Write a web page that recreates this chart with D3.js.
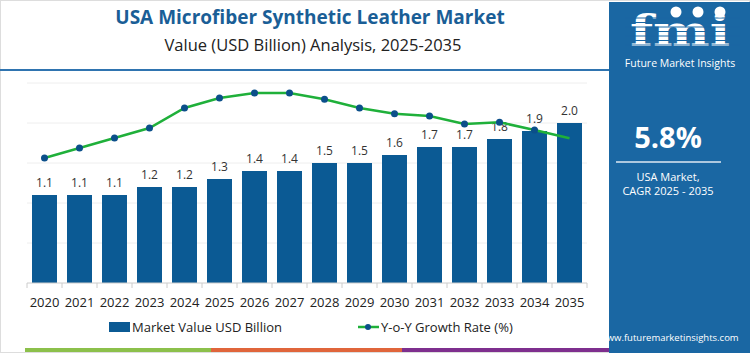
<!DOCTYPE html>
<html>
<head>
<meta charset="utf-8">
<script src="https://cdn.jsdelivr.net/npm/d3@7"></script>
<style>
  html, body { margin: 0; padding: 0; background: #fff; }
  svg { display: block; font-family: "Open Sans", sans-serif; }
</style>
</head>
<body>
<svg id="chart" width="750" height="353"></svg>
<script>
// chart data
var years = ["2020", "2021", "2022", "2023", "2024", "2025", "2026", "2027",
  "2028", "2029", "2030", "2031", "2032", "2033", "2034", "2035"];
var marketValue = [1.1, 1.1, 1.1, 1.2, 1.2, 1.3, 1.4, 1.4, 1.5, 1.5, 1.6, 1.7, 1.7, 1.8, 1.9, 2.0];
var yoyGrowth = [5.0, 5.4, 5.8, 6.2, 7.0, 7.4, 7.6, 7.6, 7.35, 7.0, 6.77, 6.68, 6.36, 6.43, 6.12, 5.79];
var valueTicks = [0, 0.5, 1, 1.5, 2, 2.5];

var svg = d3.select("#chart");
var blue = "#0b5a94";

// frame
svg.append("rect").attr("x", 0.5).attr("y", 0.5).attr("width", 749).attr("height", 352)
  .attr("fill", "none").attr("stroke", "#ddd");

// header
svg.append("text").attr("x", 310).attr("y", 24).attr("text-anchor", "middle")
  .attr("font-size", 19).attr("font-weight", 700).attr("fill", "#1a5e96")
  .text("USA Microfiber Synthetic Leather Market");
svg.append("text").attr("x", 313).attr("y", 51).attr("text-anchor", "middle")
  .attr("font-size", 16.5).attr("fill", "#222")
  .text("Value (USD Billion) Analysis, 2025-2035");
svg.append("line").attr("x1", 0).attr("x2", 609).attr("y1", 70).attr("y2", 70)
  .attr("stroke", "#2f74b0").attr("stroke-width", 2);

// scales
var x = d3.scaleBand().domain(years).range([27, 587]).paddingInner(0.286).paddingOuter(0.143);
var y = d3.scaleLinear().domain([0, 2.5]).range([283, 83]);
var yg = d3.scaleLinear().domain([0, 8]).range([283, 83]);

// gridlines
svg.append("g").selectAll("line").data(valueTicks.slice(1)).join("line")
  .attr("x1", 27).attr("x2", 587)
  .attr("y1", function (d) { return y(d); }).attr("y2", function (d) { return y(d); })
  .attr("stroke", "#eeeeee");

// bars
svg.append("g").selectAll("rect").data(marketValue).join("rect")
  .attr("x", function (d, i) { return x(years[i]); })
  .attr("y", function (d) { return y(d); })
  .attr("width", x.bandwidth())
  .attr("height", function (d) { return y(0) - y(d); })
  .attr("fill", blue);

svg.append("g").selectAll("text").data(marketValue).join("text")
  .attr("x", function (d, i) { return x(years[i]) + x.bandwidth() / 2; })
  .attr("y", function (d) { return y(d) - 8; })
  .attr("text-anchor", "middle").attr("font-size", 12).attr("fill", "#333")
  .text(function (d) { return d.toFixed(1); });

// x axis
var axis = svg.append("g").attr("transform", "translate(0,283)");
axis.append("line").attr("x1", 27).attr("x2", 587).attr("stroke", "#ccc");
var step = x.step();
axis.selectAll("line.tick").data(d3.range(years.length + 1)).join("line")
  .attr("class", "tick")
  .attr("x1", function (i) { return 27 + i * step; })
  .attr("x2", function (i) { return 27 + i * step; })
  .attr("y1", 0).attr("y2", 5).attr("stroke", "#ccc");
axis.selectAll("text").data(years).join("text")
  .attr("x", function (d) { return x(d) + x.bandwidth() / 2; })
  .attr("y", 24).attr("text-anchor", "middle").attr("font-size", 13).attr("fill", "#222")
  .text(function (d) { return d; });

// growth line
var line = d3.line()
  .x(function (d, i) { return x(years[i]) + x.bandwidth() / 2; })
  .y(function (d) { return yg(d); });
svg.append("path").datum(yoyGrowth).attr("d", line)
  .attr("fill", "none").attr("stroke", "#1fb03a").attr("stroke-width", 2.5);
svg.append("g").selectAll("circle").data(yoyGrowth.slice(0, -1)).join("circle")
  .attr("cx", function (d, i) { return x(years[i]) + x.bandwidth() / 2; })
  .attr("cy", function (d) { return yg(d); })
  .attr("r", 3.5).attr("fill", "#0b4f8a");

// legend
var lg = svg.append("g").attr("transform", "translate(0,327)");
lg.append("rect").attr("x", 109).attr("y", -5).attr("width", 21).attr("height", 10).attr("fill", blue);
lg.append("text").attr("x", 132).attr("y", 5).attr("font-size", 13).attr("fill", "#222")
  .text("Market Value USD Billion");
lg.append("line").attr("x1", 358).attr("x2", 379).attr("stroke", "#1fb03a").attr("stroke-width", 2.5);
lg.append("circle").attr("cx", 368).attr("cy", 0).attr("r", 3).attr("fill", "#0b4f8a");
lg.append("text").attr("x", 381).attr("y", 5).attr("font-size", 13).attr("fill", "#222")
  .text("Y-o-Y Growth Rate (%)");

// bottom colour strip
var strip = [["#8cc04b", 25, 211], ["#e0653b", 211, 402], ["#7e2f8e", 402, 609]];
svg.append("g").selectAll("rect").data(strip).join("rect")
  .attr("x", function (d) { return d[1]; }).attr("y", 348)
  .attr("width", function (d) { return d[2] - d[1]; }).attr("height", 4)
  .attr("fill", function (d) { return d[0]; });

// right panel
var panel = svg.append("g");
panel.append("rect").attr("x", 609).attr("y", 2).attr("width", 141).attr("height", 351).attr("fill", "#1a67a3");
panel.append("text").attr("x", 630).attr("y", 46)
  .attr("font-family", "DejaVu Serif, serif").attr("font-weight", 700).attr("font-size", 42)
  .attr("textLength", 100).attr("lengthAdjust", "spacingAndGlyphs")
  .attr("fill", "#fff").text("fmi");
// stripes across logo letters
panel.append("g").selectAll("line").data(d3.range(7)).join("line")
  .attr("x1", 625).attr("x2", 740)
  .attr("y1", function (i) { return 18 + i * 4.5; }).attr("y2", function (i) { return 18 + i * 4.5; })
  .attr("stroke", "#1a67a3").attr("stroke-width", 1);
panel.append("g").selectAll("circle").data([676, 698, 720]).join("circle")
  .attr("cx", function (d) { return d; }).attr("cy", 12).attr("r", 5.5)
  .attr("fill", "#fff");
panel.append("text").attr("x", 680).attr("y", 67).attr("text-anchor", "middle")
  .attr("font-size", 10.5).attr("fill", "#fff").text("Future Market Insights");
panel.append("text").attr("x", 668).attr("y", 148).attr("text-anchor", "middle")
  .attr("font-size", 29).attr("font-weight", 700).attr("fill", "#fff").text("5.8%");
panel.append("line").attr("x1", 616).attr("x2", 721).attr("y1", 162).attr("y2", 162)
  .attr("stroke", "#dfe9f3").attr("stroke-width", 1.5);
panel.append("text").attr("x", 668).attr("y", 181).attr("text-anchor", "middle")
  .attr("font-size", 11).attr("fill", "#fff").text("USA Market,");
panel.append("text").attr("x", 668).attr("y", 195).attr("text-anchor", "middle")
  .attr("font-size", 11).attr("fill", "#fff").text("CAGR 2025 - 2035");
panel.append("text").attr("x", 669).attr("y", 341).attr("text-anchor", "middle")
  .attr("font-size", 9.5).attr("fill", "#fff").text("www.futuremarketinsights.com");
</script>
</body>
</html>
